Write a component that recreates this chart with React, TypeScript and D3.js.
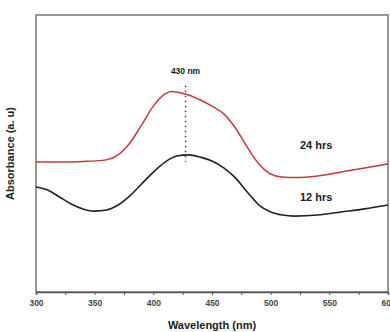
import React, { useEffect, useRef } from "react";
import * as d3 from "d3";

const wavelengths = [300, 320, 340, 360, 370, 380, 390, 400, 410, 415, 420, 430, 440, 450, 460, 470, 480, 490, 500, 510, 520, 540, 560, 580, 600];
const red24 = [0.469, 0.469, 0.471, 0.477, 0.495, 0.538, 0.603, 0.671, 0.715, 0.724, 0.722, 0.711, 0.693, 0.671, 0.643, 0.592, 0.523, 0.462, 0.426, 0.415, 0.413, 0.419, 0.433, 0.448, 0.462];

const blackWl = [300, 310, 320, 330, 340, 350, 360, 370, 380, 390, 400, 410, 420, 430, 440, 450, 460, 470, 480, 490, 500, 510, 520, 540, 560, 580, 600];
const black12 = [0.379, 0.368, 0.343, 0.318, 0.3, 0.292, 0.296, 0.314, 0.347, 0.39, 0.433, 0.469, 0.491, 0.495, 0.487, 0.473, 0.448, 0.412, 0.361, 0.314, 0.289, 0.278, 0.274, 0.278, 0.289, 0.3, 0.314];

const majorTicks = [300, 350, 400, 450, 500, 550, 600];
const peakNm = 430;

const W = 390;
const H = 332;
const FONT = "Liberation Sans, Arial, sans-serif";

export default function App() {
  const ref = useRef<SVGSVGElement | null>(null);

  useEffect(() => {
    if (!ref.current) return;
    const svg = d3.select(ref.current);
    svg.selectAll("*").remove();

    const m = { left: 36, right: 2, top: 15, bottom: 40 };
    const x = d3.scaleLinear().domain([300, 600]).range([m.left, W - m.right]);
    const y = d3.scaleLinear().domain([0, 1]).range([H - m.bottom, m.top]);

    // frame
    svg
      .append("rect")
      .attr("x", m.left)
      .attr("y", m.top)
      .attr("width", W - m.right - m.left)
      .attr("height", H - m.bottom - m.top)
      .attr("fill", "none")
      .attr("stroke", "#777")
      .attr("stroke-width", 1.5);

    // x axis
    const xAxis = svg
      .append("g")
      .attr("transform", `translate(0,${H - m.bottom})`)
      .call(
        d3
          .axisBottom(x)
          .tickValues(d3.range(300, 601, 25))
          .tickSize(3)
          .tickFormat((d) => (majorTicks.includes(+d) ? String(d) : ""))
      );
    xAxis.select(".domain").attr("stroke", "#555").attr("stroke-width", 1.5);
    xAxis.selectAll(".tick line").attr("stroke", "#555");
    xAxis
      .selectAll(".tick text")
      .attr("font-family", FONT)
      .attr("font-size", 8.5)
      .attr("font-weight", "bold")
      .attr("fill", "#444")
      .attr("dy", "0.9em");

    svg
      .append("text")
      .attr("x", (m.left + W - m.right) / 2)
      .attr("y", H - 3)
      .attr("text-anchor", "middle")
      .attr("font-family", FONT)
      .attr("font-size", 11)
      .attr("font-weight", "bold")
      .attr("fill", "#222")
      .text("Wavelength (nm)");

    svg
      .append("text")
      .attr("transform", `translate(14,${(m.top + H - m.bottom) / 2}) rotate(-90)`)
      .attr("text-anchor", "middle")
      .attr("font-family", FONT)
      .attr("font-size", 11)
      .attr("font-weight", "bold")
      .attr("fill", "#222")
      .text("Absorbance (a. u)");

    const line = d3
      .line<[number, number]>()
      .x((d) => x(d[0]))
      .y((d) => y(d[1]))
      .curve(d3.curveMonotoneX);

    svg
      .append("path")
      .datum(wavelengths.map((w, i) => [w, red24[i]] as [number, number]))
      .attr("fill", "none")
      .attr("stroke", "#c63a3e")
      .attr("stroke-width", 1.5)
      .attr("d", line);

    svg
      .append("path")
      .datum(blackWl.map((w, i) => [w, black12[i]] as [number, number]))
      .attr("fill", "none")
      .attr("stroke", "#222")
      .attr("stroke-width", 1.6)
      .attr("d", line);

    // peak marker
    svg
      .append("line")
      .attr("x1", x(peakNm) - 3)
      .attr("x2", x(peakNm) - 3)
      .attr("y1", y(0.745))
      .attr("y2", y(0.47))
      .attr("stroke", "#444")
      .attr("stroke-width", 1.5)
      .attr("stroke-dasharray", "1.5,3.5");

    svg
      .append("text")
      .attr("x", x(peakNm) - 3)
      .attr("y", 74)
      .attr("text-anchor", "middle")
      .attr("font-family", FONT)
      .attr("font-size", 8.5)
      .attr("font-weight", "bold")
      .attr("fill", "#222")
      .text("430 nm");

    svg
      .append("text")
      .attr("x", x(525))
      .attr("y", y(0.515))
      .attr("font-family", FONT)
      .attr("font-size", 11)
      .attr("font-weight", "bold")
      .attr("fill", "#222")
      .text("24 hrs");

    svg
      .append("text")
      .attr("x", x(525))
      .attr("y", y(0.33))
      .attr("font-family", FONT)
      .attr("font-size", 11)
      .attr("font-weight", "bold")
      .attr("fill", "#222")
      .text("12 hrs");
  }, []);

  return (
    <svg
      ref={ref}
      width={W}
      height={H}
      style={{ position: "absolute", left: 0, top: 0, background: "#fff" }}
    />
  );
}
